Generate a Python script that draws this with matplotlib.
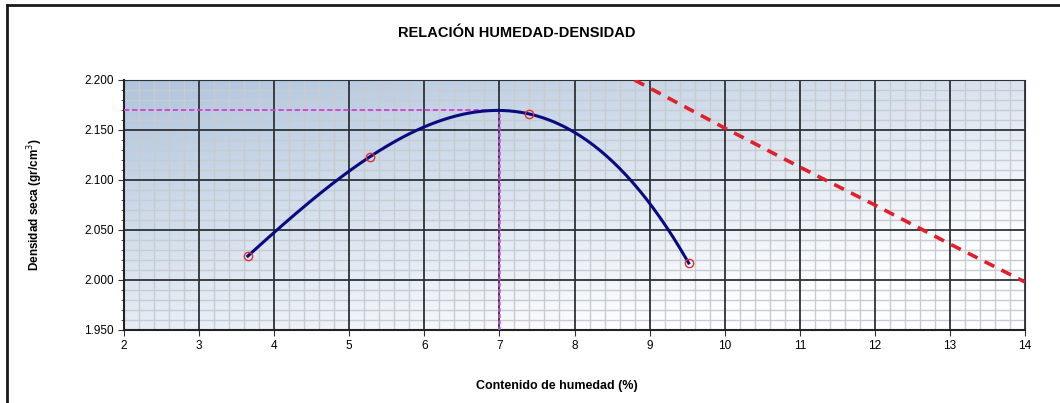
import numpy as np
import matplotlib
matplotlib.use("Agg")
import matplotlib.pyplot as plt
from matplotlib.ticker import MultipleLocator, FormatStrFormatter

plt.rcParams['font.family'] = ['Liberation Sans', 'DejaVu Sans']

# Proctor test results
humedad = [3.65, 5.27, 7.40, 9.52]
densidad = [2.024, 2.123, 2.166, 2.017]

# optimum moisture / max dry density
omc = 7.0
mdd = 2.170

# zero air voids line
zav_humedad = [8.8, 10.0, 11.0, 12.0, 13.0, 14.0]
zav_densidad = [2.200, 2.152, 2.113, 2.075, 2.036, 1.998]

fig = plt.figure(figsize=(10.6, 4.03), dpi=100)
ax = fig.add_axes([124 / 1060, 1 - 330 / 403, 901 / 1060, 250 / 403])

# diagonal blue-to-white background (row 0 is the top edge)
gx, gy = np.meshgrid(np.linspace(0, 1, 300), np.linspace(0, 1, 120))
t = np.clip(0.55 * gx + 0.7 * gy, 0, 1)
top = np.array([176, 196, 221]) / 255
bottom = np.array([253, 254, 255]) / 255
img = top[None, None, :] * (1 - t[..., None]) + bottom[None, None, :] * t[..., None]
ax.imshow(img, extent=[0, 1, 0, 1], transform=ax.transAxes, aspect='auto',
          origin='upper', zorder=0)

ax.set_xlim(2, 14)
ax.set_ylim(1.95, 2.20)
ax.xaxis.set_major_locator(MultipleLocator(1))
ax.xaxis.set_minor_locator(MultipleLocator(0.2))
ax.yaxis.set_major_locator(MultipleLocator(0.05))
ax.yaxis.set_minor_locator(MultipleLocator(0.01))
ax.yaxis.set_major_formatter(FormatStrFormatter('%.3f'))

ax.grid(which='minor', color='#c8cbd0', linewidth=1.0)
ax.set_axisbelow(True)
# major grid drawn over the minor one
ax.vlines(ax.get_xticks(), 1.95, 2.20, color='#2e3236', linewidth=1.3, zorder=1.5)
ax.hlines(ax.get_yticks(), 2, 14, color='#2e3236', linewidth=1.3, zorder=1.5)

ax.tick_params(axis='both', which='major', labelsize=8.5, length=4, color='#333333')
ax.tick_params(axis='y', which='minor', length=2.5, color='#333333')
ax.tick_params(axis='x', which='minor', length=0)
for side in ['top', 'right']:
    ax.spines[side].set_color('#2e3236')
for side in ['left', 'bottom']:
    ax.spines[side].set_color('#222222')
    ax.spines[side].set_linewidth(1.5)

# compaction curve
coef = np.polyfit(humedad, densidad, 3)
xs = np.linspace(min(humedad), max(humedad), 200)
ax.plot(xs, np.polyval(coef, xs), color='#0a0a80', linewidth=2.2, zorder=4)
ax.plot(humedad, densidad, 'o', mfc='none', mec='#e03030', mew=1.0, ms=6, zorder=5)

# optimum guide lines
ax.plot([2, omc], [mdd, mdd], color='#d040d0', linestyle=(0, (3, 1.5)), linewidth=1.3, zorder=3)
ax.plot([omc, omc], [1.95, mdd], color='#c050d8', linestyle=(0, (1.5, 1)), linewidth=1.8, zorder=3)

ax.plot(zav_humedad, zav_densidad, color='#e0202a', linestyle=(0, (3, 2.2)),
        linewidth=2.6, zorder=4, clip_on=True)

fig.text(517 / 1060, 1 - 33 / 403, 'RELACIÓN HUMEDAD-DENSIDAD', ha='center', va='center',
         fontsize=10.5, fontweight='bold')
fig.text(557 / 1060, 1 - 386 / 403, 'Contenido de humedad (%)', ha='center', va='center',
         fontsize=9, fontweight='bold')
fig.text(35 / 1060, 1 - 205 / 403, 'Densidad seca (gr/cm$^3$)', ha='center', va='center',
         rotation=90, fontsize=8.5, fontweight='bold')

# outer frame (top and left edges)
fig.add_artist(plt.Line2D([7 / 1060, 1], [1 - 5 / 403, 1 - 5 / 403], color='#1a1a1a', linewidth=2))
fig.add_artist(plt.Line2D([7 / 1060, 7 / 1060], [0, 1 - 5 / 403], color='#1a1a1a', linewidth=2))

fig.savefig('out.png', dpi=100)
